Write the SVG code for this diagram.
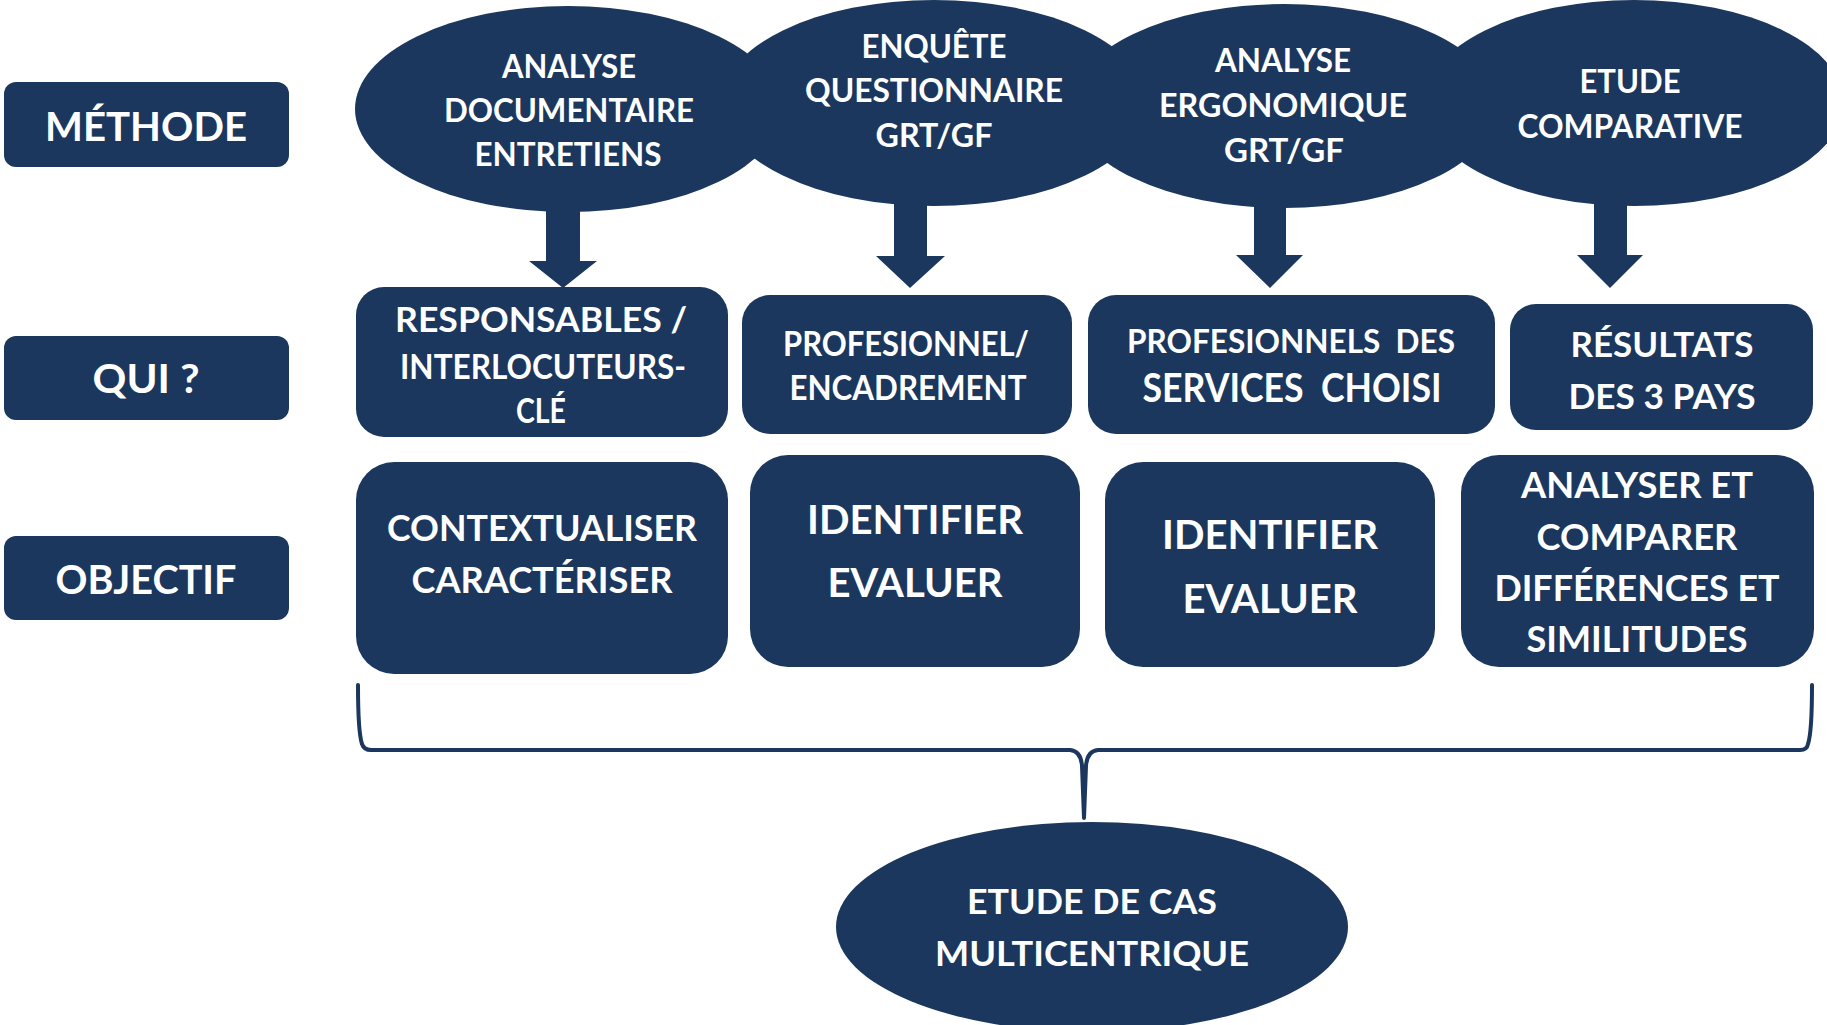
<svg xmlns="http://www.w3.org/2000/svg" width="1827" height="1025" viewBox="0 0 1827 1025">
<style>
.n{fill:#1b375d}
.t{fill:#ffffff;font-family:Lato,"Open Sans","Liberation Sans",sans-serif;font-weight:700;text-anchor:middle}
.lab{font-size:41px}
.el{font-size:32px}
.q{font-size:35px}
.o{font-size:36px}
.ob{font-size:40px}
.br{fill:none;stroke:#1b375d;stroke-width:4;stroke-linejoin:round;stroke-linecap:round}
</style>
<rect width="1827" height="1025" fill="#ffffff"/>

<g id="label-methode">
<rect class="n" x="4" y="82" width="285" height="85" rx="12"/>
<text class="t lab" x="146" y="141" textLength="202" lengthAdjust="spacingAndGlyphs">MÉTHODE</text>
</g>
<g id="label-qui">
<rect class="n" x="4" y="336" width="285" height="84" rx="12"/>
<text class="t lab" x="146" y="393" textLength="107" lengthAdjust="spacingAndGlyphs">QUI ?</text>
</g>
<g id="label-objectif">
<rect class="n" x="4" y="536" width="285" height="84" rx="12"/>
<text class="t lab" x="146" y="594" textLength="181" lengthAdjust="spacingAndGlyphs">OBJECTIF</text>
</g>

<g id="m1">
<ellipse class="n" cx="568" cy="109" rx="213" ry="103"/>
<text class="t el" x="569" y="78" textLength="134" lengthAdjust="spacingAndGlyphs">ANALYSE</text>
<text class="t el" x="569" y="122" textLength="250" lengthAdjust="spacingAndGlyphs">DOCUMENTAIRE</text>
<text class="t el" x="568" y="166" textLength="187" lengthAdjust="spacingAndGlyphs">ENTRETIENS</text>
</g>
<g id="m2">
<ellipse class="n" cx="934" cy="103" rx="213" ry="103"/>
<text class="t el" x="934" y="58" textLength="145" lengthAdjust="spacingAndGlyphs">ENQUÊTE</text>
<text class="t el" x="934" y="102" textLength="258" lengthAdjust="spacingAndGlyphs">QUESTIONNAIRE</text>
<text class="t el" x="934" y="147" textLength="117" lengthAdjust="spacingAndGlyphs">GRT/GF</text>
</g>
<g id="m3">
<ellipse class="n" cx="1284" cy="106" rx="213" ry="102"/>
<text class="t el" x="1283" y="72" textLength="136" lengthAdjust="spacingAndGlyphs">ANALYSE</text>
<text class="t el" x="1283" y="117" textLength="248" lengthAdjust="spacingAndGlyphs">ERGONOMIQUE</text>
<text class="t el" x="1284" y="162" textLength="120" lengthAdjust="spacingAndGlyphs">GRT/GF</text>
</g>
<g id="m4">
<ellipse class="n" cx="1634" cy="103" rx="210" ry="103"/>
<text class="t el" x="1630" y="93" textLength="101" lengthAdjust="spacingAndGlyphs">ETUDE</text>
<text class="t el" x="1630" y="138" textLength="225" lengthAdjust="spacingAndGlyphs">COMPARATIVE</text>
</g>

<g id="connectors">
<polygon class="n" points="546,200 580,200 580,261 597,261 563,288 529,261 546,261"/>
<polygon class="n" points="894,198 927,198 927,256 945,256 910,288 876,256 894,256"/>
<polygon class="n" points="1254,200 1286,200 1286,255 1303,255 1270,288 1236,255 1254,255"/>
<polygon class="n" points="1594,198 1627,198 1627,255 1643,255 1610,288 1577,255 1594,255"/>
<path class="br" d="M358 685 C358 718 360 738 362 744 Q364 750 371 750 L1070 750 Q1081 751 1082 766 L1084 818 L1086 766 Q1087 751 1098 750 L1800 750 Q1807 750 1808 744 C1810 738 1812 718 1812 685"/>
</g>

<g id="q1">
<rect class="n" x="356" y="287" width="372" height="150" rx="28"/>
<text class="t q" x="541" y="332" textLength="292" lengthAdjust="spacingAndGlyphs">RESPONSABLES /</text>
<text class="t q" x="543" y="379" textLength="286" lengthAdjust="spacingAndGlyphs">INTERLOCUTEURS-</text>
<text class="t q" x="541" y="423" textLength="50" lengthAdjust="spacingAndGlyphs">CLÉ</text>
</g>
<g id="q2">
<rect class="n" x="742" y="295" width="330" height="139" rx="28"/>
<text class="t q" x="906" y="356" textLength="246" lengthAdjust="spacingAndGlyphs">PROFESIONNEL/</text>
<text class="t q" x="908" y="400" textLength="237" lengthAdjust="spacingAndGlyphs">ENCADREMENT</text>
</g>
<g id="q3">
<rect class="n" x="1088" y="295" width="407" height="139" rx="28"/>
<text class="t" x="1291" y="353" font-size="33" xml:space="preserve" textLength="328" lengthAdjust="spacingAndGlyphs">PROFESIONNELS  DES</text>
<text class="t" x="1292" y="402" font-size="40" xml:space="preserve" textLength="299" lengthAdjust="spacingAndGlyphs">SERVICES  CHOISI</text>
</g>
<g id="q4">
<rect class="n" x="1510" y="304" width="303" height="126" rx="26"/>
<text class="t q" x="1662" y="357" textLength="183" lengthAdjust="spacingAndGlyphs">RÉSULTATS</text>
<text class="t q" x="1662" y="409" textLength="187" lengthAdjust="spacingAndGlyphs">DES 3 PAYS</text>
</g>

<g id="o1">
<rect class="n" x="356" y="462" width="372" height="212" rx="38"/>
<text class="t o" x="542" y="541" textLength="310" lengthAdjust="spacingAndGlyphs">CONTEXTUALISER</text>
<text class="t o" x="542" y="593" textLength="261" lengthAdjust="spacingAndGlyphs">CARACTÉRISER</text>
</g>
<g id="o2">
<rect class="n" x="750" y="455" width="330" height="212" rx="38"/>
<text class="t ob" x="915" y="534" textLength="216" lengthAdjust="spacingAndGlyphs">IDENTIFIER</text>
<text class="t ob" x="915" y="597" textLength="175" lengthAdjust="spacingAndGlyphs">EVALUER</text>
</g>
<g id="o3">
<rect class="n" x="1105" y="462" width="330" height="205" rx="38"/>
<text class="t ob" x="1270" y="549" textLength="216" lengthAdjust="spacingAndGlyphs">IDENTIFIER</text>
<text class="t ob" x="1270" y="613" textLength="175" lengthAdjust="spacingAndGlyphs">EVALUER</text>
</g>
<g id="o4">
<rect class="n" x="1461" y="455" width="353" height="212" rx="38"/>
<text class="t o" x="1637" y="498" textLength="232" lengthAdjust="spacingAndGlyphs">ANALYSER ET</text>
<text class="t o" x="1637" y="550" textLength="201" lengthAdjust="spacingAndGlyphs">COMPARER</text>
<text class="t o" x="1637" y="601" textLength="285" lengthAdjust="spacingAndGlyphs">DIFFÉRENCES ET</text>
<text class="t o" x="1637" y="652" textLength="221" lengthAdjust="spacingAndGlyphs">SIMILITUDES</text>
</g>

<g id="etude-cas">
<ellipse class="n" cx="1092" cy="927" rx="256" ry="105"/>
<text class="t q" x="1092" y="914" textLength="250" lengthAdjust="spacingAndGlyphs">ETUDE DE CAS</text>
<text class="t q" x="1092" y="966" textLength="314" lengthAdjust="spacingAndGlyphs">MULTICENTRIQUE</text>
</g>
</svg>
